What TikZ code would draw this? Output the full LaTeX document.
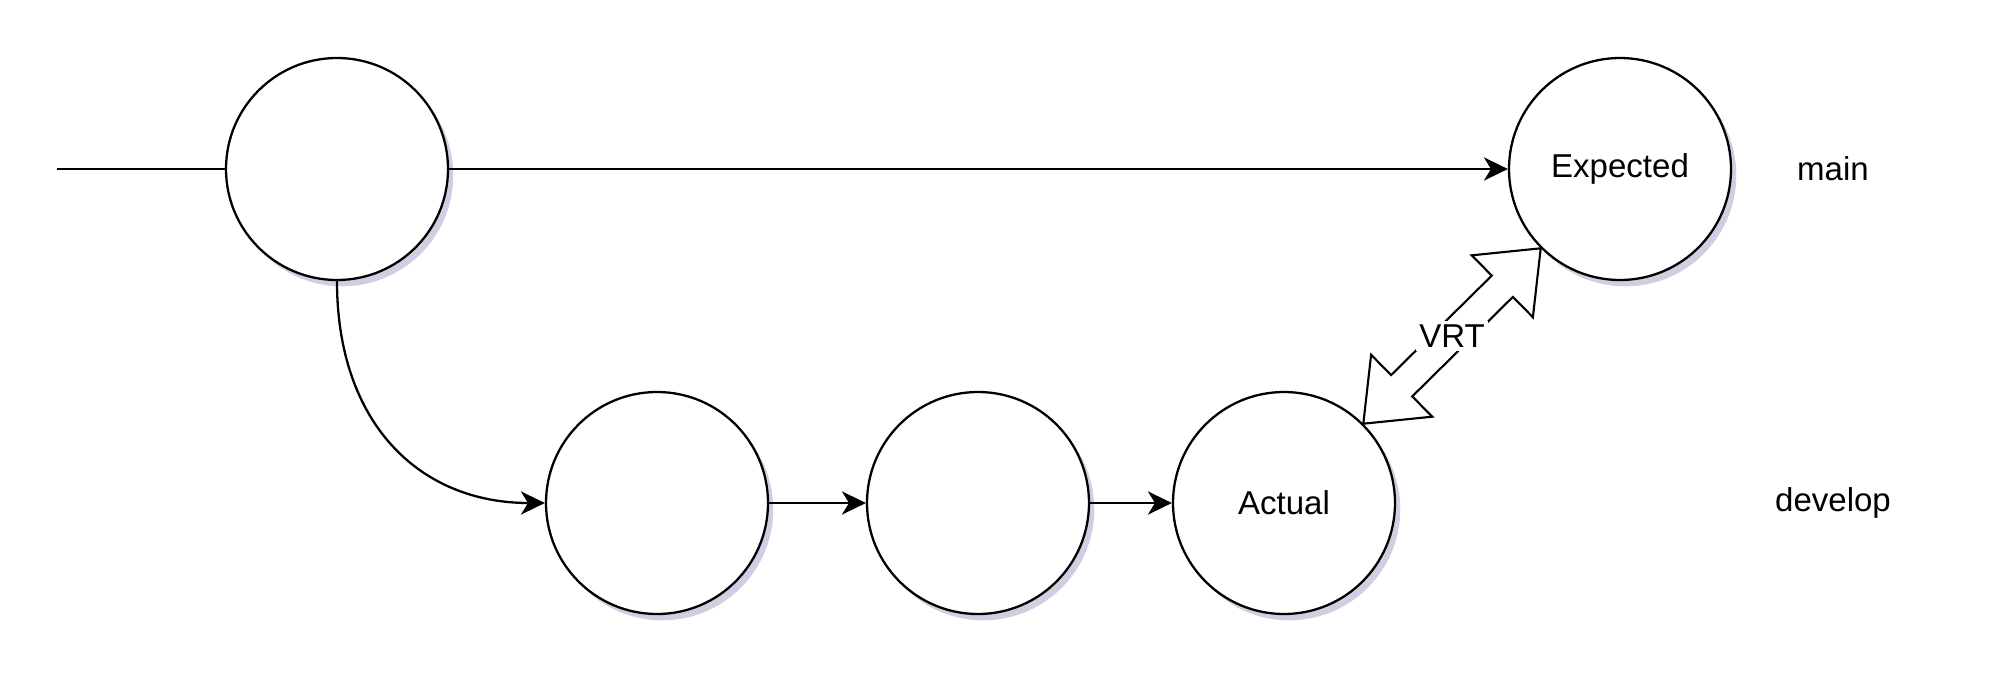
\documentclass[tikz,border=0pt]{standalone}
\usepackage{fontspec}
\setmainfont{Liberation Sans}
\usetikzlibrary{arrows.meta, calc, shadows}

\begin{document}
\begin{tikzpicture}[
    commit/.style={circle, draw, line width=0.65pt, fill=white, minimum size=2.22cm, inner sep=0pt,
        drop shadow={shadow xshift=1.5pt, shadow yshift=-1.8pt, opacity=0.3, fill=blue!25!gray}},
    lbl/.style={font=\fontsize{9.4pt}{11pt}\selectfont},
    flow/.style={line width=0.65pt, -{Stealth[length=6.8pt, width=6.6pt, inset=2pt]}},
    flex/.style={line width=0.6pt, fill=white, line join=miter}
]
\useasboundingbox (0, 0) rectangle (20, 6.89);

\coordinate (start) at (0.57, 5.20);

\node (c0)[commit] at (3.37, 5.20) {};
\node (exp)[commit, lbl] at (16.20, 5.20) {Expected};

\node (d1)[commit] at (6.57, 1.86) {};
\node (d2)[commit] at (9.78, 1.86) {};
\node (act)[commit, lbl] at (12.84, 1.86) {Actual};

\node (main)[lbl] at (18.33, 5.20) {main};
\node (develop)[lbl] at (18.33, 1.86) {develop};


\draw[line width=0.65pt] (start) -- (c0);
\draw[flow] (c0) -- (exp);
\draw[flow] (c0.south) .. controls (3.37, 2.65) and (4.2, 1.86) .. (d1.west);
\draw[flow] (d1) -- (d2);
\draw[flow] (d2) -- (act);

% VRT double arrow
\coordinate (va) at (act.45);
\coordinate (vb) at (exp.225);
\draw[flex] (va)
    -- ($(va)!0.54cm!(vb)!0.435cm!90:(vb)$)
    -- ($(va)!0.54cm!(vb)!0.15cm!90:(vb)$)
    -- ($(vb)!0.54cm!(va)!0.15cm!-90:(va)$)
    -- ($(vb)!0.54cm!(va)!0.435cm!-90:(va)$)
    -- (vb)
    -- ($(vb)!0.54cm!(va)!0.435cm!90:(va)$)
    -- ($(vb)!0.54cm!(va)!0.15cm!90:(va)$)
    -- ($(va)!0.54cm!(vb)!0.15cm!-90:(vb)$)
    -- ($(va)!0.54cm!(vb)!0.435cm!-90:(vb)$)
    -- cycle;
\node (vrt)[lbl, fill=white, inner sep=1pt] at ($(va)!0.5!(vb)$) {VRT};

\end{tikzpicture}
\end{document}
